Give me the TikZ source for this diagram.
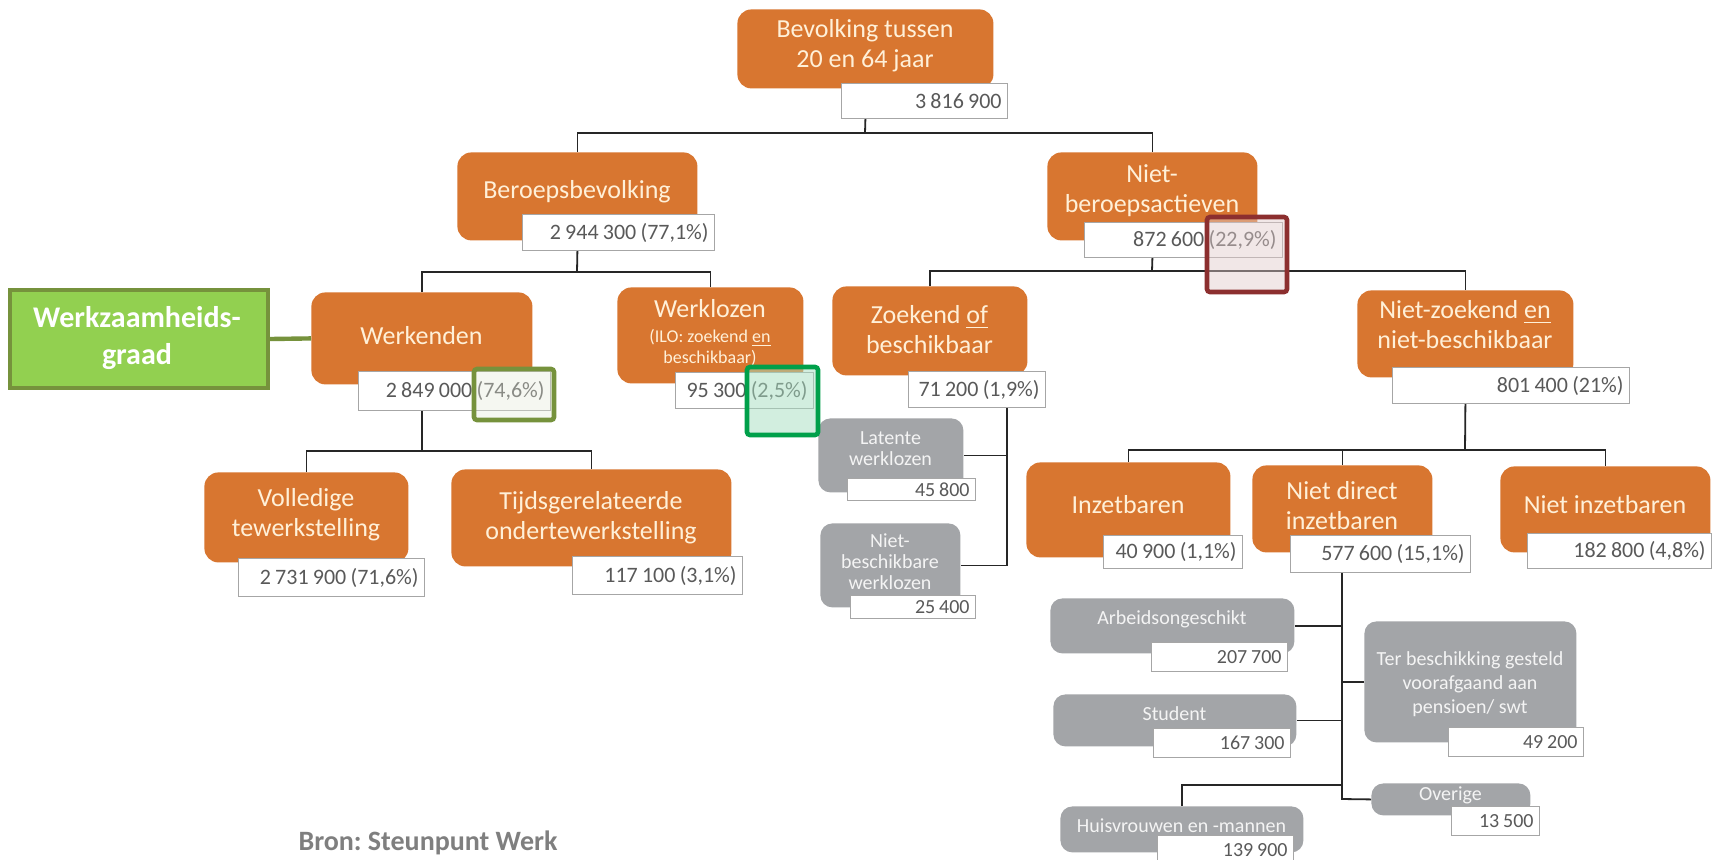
\documentclass[tikz,border=0pt]{standalone}
\usepackage{fontspec}
\setmainfont{Carlito}
\newfontfamily\valfam{Carlito}[WordSpace={0.85}]
\usetikzlibrary{calc}
\frenchspacing
\setlength{\parindent}{0pt}
\definecolor{orng}{HTML}{D87630}
\definecolor{ocream}{HTML}{FFF0D8}
\definecolor{gryC}{HTML}{A3A5A8}
\definecolor{gtext}{HTML}{F4F4F4}
\definecolor{vborder}{HTML}{A6A6A6}
\definecolor{vtext}{HTML}{595959}
\definecolor{lineC}{HTML}{262626}
\definecolor{grnF}{HTML}{92D050}
\definecolor{grnB}{HTML}{76923C}
\definecolor{hlG2}{HTML}{00A04A}
\definecolor{hlR}{HTML}{8C2F2F}
\definecolor{bronC}{HTML}{7F7F7F}
\tikzset{
  obx/.style={fill=orng, rounded corners=7pt, inner sep=0pt},
  gbx/.style={fill=gryC, rounded corners=6pt, inner sep=0pt},
  wzb/.style={fill=grnF, draw=grnB, line width=2pt, inner sep=0pt},
  otx/.style={text=ocream, font=\fontsize{13}{15}\selectfont, align=center, inner sep=0pt},
  gtx/.style={text=gtext, font=\fontsize{10}{10.5}\selectfont, align=center, inner sep=0pt},
  gtxb/.style={gtx, font=\fontsize{10}{12}\selectfont},
  wtx/.style={text=white, font=\bfseries\fontsize{15}{18.5}\selectfont, align=center, inner sep=0pt},
  vbx/.style={fill=white, draw=vborder, line width=0.6pt, text=vtext, font=\valfam\fontsize{11}{13}\selectfont, align=flush right, inner xsep=3pt, inner ysep=0pt},
  gvbx/.style={vbx, font=\valfam\fontsize{10}{12}\selectfont},
  conn/.style={draw=lineC, line width=0.9pt},
  wzline/.style={draw=grnB, line width=2.2pt},
  hlred/.style={draw=hlR, line width=2.3pt, fill=hlR!25, fill opacity=0.45, rounded corners=1.5pt},
  hlgreena/.style={draw=grnB, line width=2.3pt, fill=grnB!20, fill opacity=0.35, rounded corners=1.5pt},
  hlgreenb/.style={draw=hlG2, line width=2.3pt, fill=hlG2!35, fill opacity=0.5, rounded corners=1.5pt},
  bron/.style={text=bronC, font=\bfseries\fontsize{14}{16}\selectfont},
}
% box style, text style, name, x1, y1, x2, y2, text, text centre y
\newcommand\mybox[9]{%
  \pgfmathsetmacro\mybw{(#6-#4)*0.5}%
  \pgfmathsetmacro\mybh{(#7-#5)*0.5}%
  \node[#1, minimum width=\mybw pt, minimum height=\mybh pt, anchor=north west] (#3) at (#4,#5) {};
  \node[#2] (#3t) at ({(#4+#6)/2},#9) {#8};}
\newcommand\myval[7]{%
  \pgfmathsetmacro\mybw{(#5-#3)*0.5-6}%
  \pgfmathsetmacro\mybh{(#6-#4)*0.5}%
  \node[#1, text width=\mybw pt, minimum height=\mybh pt, anchor=north west] (#2) at (#3,#4) {#7};}
\begin{document}
\begin{tikzpicture}[x=0.5pt,y=-0.5pt]
\clip (0,0) rectangle (1713,859);
\fill[white] (0,0) rectangle (1713,859);
% level 0
\mybox{obx}{otx}{b0}{737}{9}{993}{88}{Bevolking tussen\\20 en 64 jaar}{46}
\myval{vbx}{v0}{841}{83}{1007}{118}{3 816 900}
% level 1
\mybox{obx}{otx}{b1}{457}{152}{697}{240}{Beroepsbevolking}{192}
\myval{vbx}{v1}{522}{214}{714}{250}{2 944 300 (77,1\%)}
\mybox{obx}{otx}{b2}{1047}{152}{1257}{240}{Niet-\\beroepsactieven}{191}
\myval{vbx}{v2}{1084}{222}{1282}{257}{872 600 (22,9\%)}
% level 2
\mybox{wzb}{wtx}{wz}{8}{288}{266}{386}{Werkzaamheids-\\graad}{338}
\mybox{obx}{otx}{b3}{311}{292}{532}{384}{Werkenden}{336}
\myval{vbx}{v3}{358}{371}{550}{410}{2 849 000 (74,6\%)}
\mybox{obx}{otx}{b4}{617}{287}{803}{383}{Werklozen\\[-2.5pt]{\fontsize{9}{10.5}\selectfont (ILO: zoekend \underline{en}}\\[-4.5pt]{\fontsize{9}{10.5}\selectfont beschikbaar)}}{333}
\myval{vbx}{v4}{675}{372}{813}{408}{95 300 (2,5\%)}
\mybox{obx}{otx}{b5}{832}{286}{1027}{375}{Zoekend \underline{of}\\beschikbaar}{330}
\myval{vbx}{v5}{908}{371}{1045}{407}{71 200 (1,9\%)}
\mybox{obx}{otx}{b6}{1357}{290}{1573}{377}{Niet-zoekend \underline{en}\\niet-beschikbaar}{325}
\myval{vbx}{v6}{1392}{367}{1629}{403}{801 400 (21\%)}
% level 3 left
\mybox{obx}{otx}{b7}{204}{472}{408}{562}{Volledige\\tewerkstelling}{515}
\myval{vbx}{v7}{238}{558}{424}{596}{2 731 900 (71,6\%)}
\mybox{obx}{otx}{b8}{451}{469}{731}{566}{Tijdsgerelateerde\\ondertewerkstelling}{518}
\myval{vbx}{v8}{572}{556}{742}{594}{117 100 (3,1\%)}
% zoekend children
\mybox{gbx}{gtx}{g1}{818}{418}{963}{492}{Latente\\werklozen}{449}
\myval{gvbx}{gv1}{847}{478}{975}{500}{45 800}
\mybox{gbx}{gtx}{g2}{820}{523}{960}{607}{Niet-\\beschikbare\\werklozen}{562}
\myval{gvbx}{gv2}{850}{595}{975}{618}{25 400}
% niet-zoekend children
\mybox{obx}{otx}{b9}{1026}{462}{1230}{557}{Inzetbaren}{505}
\myval{vbx}{v9}{1103}{535}{1242}{568}{40 900 (1,1\%)}
\mybox{obx}{otx}{b10}{1252}{465}{1432}{552}{Niet direct\\inzetbaren}{506}
\myval{vbx}{v10}{1290}{535}{1470}{572}{577 600 (15,1\%)}
\mybox{obx}{otx}{b11}{1500}{466}{1710}{552}{Niet inzetbaren}{505}
\myval{vbx}{v11}{1527}{533}{1711}{568}{182 800 (4,8\%)}
% niet direct children
\mybox{gbx}{gtx}{g3}{1050}{598}{1294}{653}{Arbeidsongeschikt}{619}
\myval{gvbx}{gv3}{1151}{642}{1287}{671}{207 700}
\mybox{gbx}{gtx}{g4}{1053}{694}{1296}{746}{Student}{714}
\myval{gvbx}{gv4}{1153}{728}{1290}{757}{167 300}
\mybox{gbx}{gtxb}{g5}{1364}{621}{1576}{742}{Ter beschikking gesteld\\voorafgaand aan\\pensioen/ swt}{684}
\myval{gvbx}{gv5}{1448}{727}{1583}{756}{49 200}
\mybox{gbx}{gtx}{g6}{1371}{783}{1530}{815}{Overige}{795}
\myval{gvbx}{gv6}{1451}{806}{1539}{835}{13 500}
\mybox{gbx}{gtx}{g7}{1060}{806}{1303}{852}{Huisvrouwen en -mannen}{826}
\myval{gvbx}{gv7}{1157}{835}{1293}{864}{139 900}
% connectors
\coordinate (j0) at (865,133);
\draw[conn] (b0.south |- v0.south) -- (j0);
\draw[conn] (b1.north) |- (j0) -| (b2.north);
\coordinate (j1) at (577,272);
\draw[conn] (v1.south -| b1.south) -- (j1);
\draw[conn] (b3.north) |- (j1) -| (b4.north);
\coordinate (j2) at (1152,271);
\draw[conn] (v2.south -| b2.south) -- (j2);
\draw[conn] (b5.north) |- (j2) -| (b6.north);
\coordinate (j3) at (422,451);
\draw[conn] (v3.south -| j3) -- (j3);
\draw[conn] (b7.north) |- (j3) -| (b8.north);
\coordinate (j4) at (1007,407);
\draw[conn] (v5.south -| j4) -- (g2.east -| j4) -- (g2.east);
\draw[conn] (g1.east) -- (g1.east -| j4);
\coordinate (j5) at (1465,450);
\draw[conn] (v6.south -| b6.south) -- (j5);
\draw[conn] (b9.north) |- (j5) -| (b11.north);
\draw[conn] (b10.north) -- (b10.north |- j5);
\coordinate (j6) at (1342,799);
\draw[conn] (v10.south -| j6) -- (j6) -- (g6.west);
\draw[conn] (g3.east) -- (g3.east -| j6);
\draw[conn] (g4.east) -- (g4.east -| j6);
\draw[conn] (g5.west) -- (g5.west -| j6);
\coordinate (j7) at (1342,785);
\draw[conn] (g7.north) |- (j7);
\draw[wzline] (wz.east) -- (b3.west);
% highlights
\draw[hlred] (1207,217) rectangle (1287,292);
\draw[hlgreena] (474,369) rectangle (554,420);
\draw[hlgreenb] (747,367) rectangle (818,435);
% source
\node[bron] (src) at (428,843) {Bron: Steunpunt Werk};
\end{tikzpicture}
\end{document}
